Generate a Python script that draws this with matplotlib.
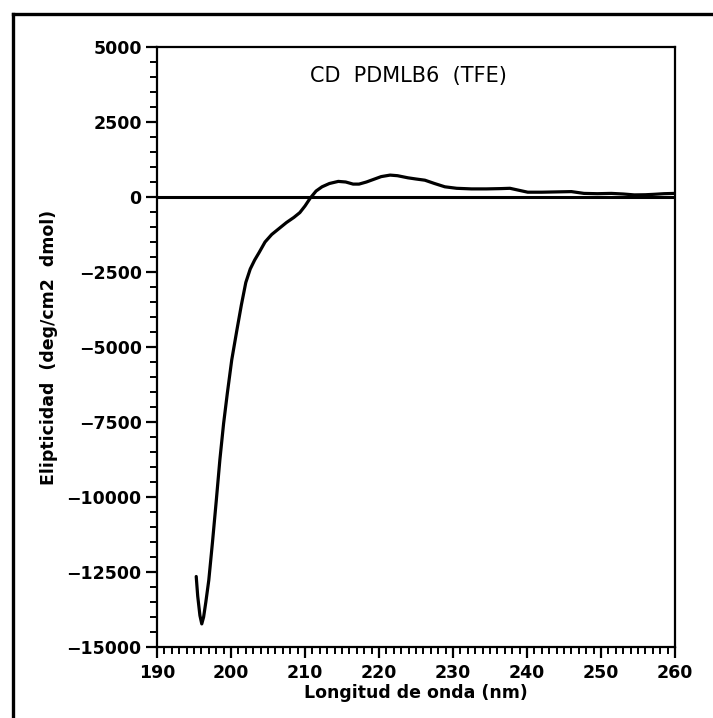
import matplotlib
matplotlib.use("Agg")
import matplotlib.pyplot as plt
from matplotlib.lines import Line2D
from matplotlib.ticker import MultipleLocator

# CD spectrum of PDMLB6 in TFE
wavelength_nm = [
    195.3, 195.5, 195.8, 196.05, 196.3, 196.6, 197.0, 197.5, 198.0, 198.5,
    199.0, 199.5, 200.1, 200.8, 201.4, 202.0, 202.6, 203.2, 203.8, 204.6,
    205.5, 206.5, 207.5, 208.5, 209.3, 210.0, 210.7, 211.5, 212.3, 213.3,
    214.5, 215.5, 216.5, 217.3, 218.3, 219.3, 220.3, 221.5, 222.5, 223.9,
    225.0, 226.2, 227.5, 228.9, 230.5, 232.5, 234.5, 236.5, 237.7, 238.8,
    240.1, 242.0, 244.0, 246.0, 247.7, 249.5, 251.4, 253.0, 254.5, 256.0,
    257.2, 258.5, 260.0,
]
ellipticity = [
    -12650, -13300, -13950, -14230, -14000, -13500, -12770, -11500, -10150, -8750,
    -7550, -6550, -5430, -4430, -3600, -2850, -2400, -2100, -1850, -1500,
    -1250, -1050, -850, -680, -520, -300, -40, 200, 340, 450,
    520, 500, 430, 430, 500, 590, 680, 730, 710, 640,
    600, 560, 450, 340, 290, 270, 270, 280, 290, 230,
    160, 160, 170, 180, 120, 110, 120, 100, 70, 75,
    90, 110, 120,
]

x_ticks = [190, 200, 210, 220, 230, 240, 250, 260]
y_ticks = [5000, 2500, 0, -2500, -5000, -7500, -10000, -12500, -15000]

title_text = "CD  PDMLB6  (TFE)"
x_label = "Longitud de onda (nm)"
y_label = "Elipticidad  (deg/cm2  dmol)"

W, H = 713, 718
fig = plt.figure(figsize=(W / 100, H / 100), dpi=100)
fig.patch.set_facecolor("white")

ax = fig.add_axes([157 / W, (H - 647) / H, 518 / W, 600 / H])

ax.axhline(0, color="black", lw=2.2, zorder=2)
ax.plot(wavelength_nm, ellipticity, color="black", lw=2.3,
        solid_joinstyle="round", solid_capstyle="round", zorder=3)

ax.set_xlim(190, 260)
ax.set_ylim(-15000, 5000)
ax.set_xticks(x_ticks)
ax.set_yticks(y_ticks)
ax.xaxis.set_minor_locator(MultipleLocator(1))
ax.yaxis.set_minor_locator(MultipleLocator(500))

for s in ax.spines.values():
    s.set_linewidth(1.6)
    s.set_color("black")

ax.tick_params(axis="both", which="major", direction="out", length=8,
               width=1.6, colors="black", labelsize=12.5)
ax.tick_params(axis="both", which="minor", direction="out", length=5,
               width=1.4, colors="black")
ax.tick_params(axis="y", which="major", pad=3)
ax.tick_params(axis="x", which="major", pad=4)
ax.tick_params(top=False, right=False, which="both")
for lab in ax.get_xticklabels() + ax.get_yticklabels():
    lab.set_fontweight("bold")
ax.yaxis.set_major_formatter(
    matplotlib.ticker.FuncFormatter(lambda v, p: f"{int(v)}".replace("-", "\u2212")))

ax.text(0.485, 0.952, title_text, transform=ax.transAxes, ha="center",
        va="center", fontsize=15, color="black")

ax.set_xlabel(x_label, fontsize=12.5, fontweight="bold", labelpad=2)
ax.set_ylabel(y_label, fontsize=12.5, fontweight="bold", labelpad=6)

# outer frame along the top and left edges of the sheet
fig.add_artist(Line2D([12.5 / W, 12.5 / W], [0, (H - 14) / H],
                      transform=fig.transFigure, color="black", lw=2.4))
fig.add_artist(Line2D([12.5 / W, 1], [(H - 14) / H, (H - 14) / H],
                      transform=fig.transFigure, color="black", lw=2.4))

fig.savefig("out.png", dpi=100, facecolor="white")
